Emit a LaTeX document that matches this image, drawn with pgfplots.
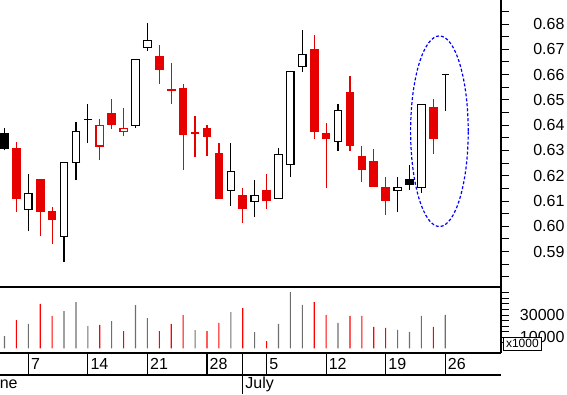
\documentclass[border=0pt]{standalone}
\usepackage{pgfplots}
\usepackage{pgfplotstable}
\pgfplotsset{compat=1.18}
\usepackage{fontspec}
\setmainfont{Liberation Sans}
\definecolor{cred}{RGB}{230,0,0}
\definecolor{vred}{RGB}{255,0,0}
\definecolor{vgray}{RGB}{110,110,110}
\definecolor{eblue}{RGB}{0,0,255}
% candles, prices in cents: x low bodylow bodyhigh high
\pgfplotstableread{
x l bl bh h
2 60.58 61.13 63.06 63.34
4 59.63 60.58 61.83 61.83
5 59.32 60.27 60.57 60.77
10 63.86 64.02 64.44 65.04
14 65.64 66.23 66.70 67.17
15 64.85 65.40 65.40 66.46
16 62.24 63.66 65.43 65.63
17 62.75 63.68 63.68 64.36
18 62.79 63.58 63.85 64.00
19 61.13 61.13 62.86 63.28
21 60.15 60.70 61.19 61.51
23 60.70 61.02 61.39 62.07
27 63.47 63.78 66.97 67.57
28 61.53 63.47 63.65 64.09
30 62.99 63.19 65.27 65.94
31 61.77 62.24 62.74 63.18
32 61.57 61.57 62.55 63.05
33 60.46 61.02 61.52 61.96
37 62.87 63.47 64.68 65.04
}\redfilled
\pgfplotstableread{
x l bl bh h
9 62.64 63.18 64.00 64.25
11 63.56 63.76 63.88 64.68
}\redhollow
\pgfplotstableread{
x l bl bh h
3 59.83 60.68 61.31 62.07
6 58.57 59.61 62.53 62.53
7 61.83 62.53 63.76 64.13
12 63.90 64.00 66.60 66.60
13 66.94 67.08 67.36 68.04
20 60.82 61.43 62.18 63.28
22 60.38 60.99 61.21 61.82
24 61.11 61.11 62.85 63.09
25 61.96 62.45 66.13 66.13
26 66.11 66.33 66.80 67.76
29 62.99 63.36 64.59 64.84
34 60.57 61.43 61.53 61.95
36 61.33 61.53 64.83 64.83
}\whitehollow
\pgfplotstableread{
x l bl bh h
1 63.00 63.10 63.65 63.90
8 63.31 64.22 64.22 64.84
35 61.45 61.66 61.82 62.43
}\blackfilled
\pgfplotstableread{
x l bl bh h
38 64.57 66.00 66.00 66.00
}\lastday
\pgfplotsset{nomark/.style={only marks, mark=none, mark size=0pt, mark options={draw=none, fill=none}}}
\newcommand{\wick}[3]{\addplot[nomark, error bars/.cd, y dir=plus, y explicit, error mark=none,
  error bar style={draw=#2, line width=#3}] table[x=x, y=l, y error plus expr=\thisrow{h}-\thisrow{l}] {#1};}
\newcommand{\body}[3]{\addplot[nomark, error bars/.cd, y dir=plus, y explicit, error mark=none,
  error bar style={draw=#2, line width=#3}] table[x=x, y=bl, y error plus expr=\thisrow{bh}-\thisrow{bl}] {#1};}
\newcommand{\edges}[3]{%
  \addplot[only marks, mark=-, mark size=4.3pt, mark options={draw=#2, line width=#3}] table[x=x, y=bl] {#1};
  \addplot[only marks, mark=-, mark size=4.3pt, mark options={draw=#2, line width=#3}] table[x=x, y=bh] {#1};}
\newcommand{\filledcandles}[2]{\wick{#1}{#2}{1.2pt}\body{#1}{#2}{8.6pt}\edges{#1}{#2}{1.6pt}}
\newcommand{\hollowcandles}[2]{\wick{#1}{#2}{1.2pt}\body{#1}{#2}{8.6pt}\body{#1}{white}{6.2pt}\edges{#1}{#2}{1.2pt}}
\tikzset{dl/.style={font=\fontsize{16}{18}\selectfont, inner sep=0pt, anchor=base west}}
\begin{document}
\begin{tikzpicture}
\useasboundingbox (0,0) rectangle (567pt,-395pt);
\pgfplotsset{
  common/.style={scale only axis, width=501pt, xmin=0.624, xmax=42.68, anchor=north west,
    tick align=outside, /pgf/number format/assume math mode=true,
    tick label style={font=\fontsize{16}{18}\selectfont},
    xtick=\empty, axis line style={line width=1.1pt}, tick style={line width=1pt, black},
    major tick length=8pt, minor tick length=8pt},
}
% ---------------- price panel (values in cents) ----------------
\begin{axis}[common, at={(0pt,0pt)}, height=287pt, ymin=57.6, ymax=68.95,
  axis x line*=bottom, axis y line*=right,
  ytick={59,60,61,62,63,64,65,66,67,68},
  yticklabels={0.59,0.60,0.61,0.62,0.63,0.64,0.65,0.66,0.67,0.68},
  minor ytick={58,58.5,59.5,60.5,61.5,62.5,63.5,64.5,65.5,66.5,67.5,68.5},
  yticklabel style={anchor=east, xshift=59pt},
]
\filledcandles{\redfilled}{cred}
\hollowcandles{\redhollow}{cred}
\hollowcandles{\whitehollow}{black}
\filledcandles{\blackfilled}{black}
\wick{\lastday}{black}{0.9pt}
\addplot[only marks, mark=-, mark size=3.3pt, mark options={draw=black, line width=0.9pt}] table[x=x, y=h] {\lastday};
\coordinate (ec) at (axis cs:37.51,63.76);
\end{axis}
\draw[eblue, line width=1.2pt, dash pattern=on 3pt off 2pt] (ec) ellipse [x radius=28.8pt, y radius=95.3pt];
% ---------------- volume panel ----------------
\begin{axis}[common, at={(0pt,-287pt)}, height=66pt, ymin=-4200, ymax=55200,
  axis x line*=box, axis y line*=right, scaled y ticks=false,
  ytick={10000,20000,30000,40000,50000}, yticklabels={10000,,30000,,},
  minor ytick={5000,15000,25000,35000,45000},
  yticklabel style={anchor=east, xshift=59pt},
]
\addplot[ybar, bar width=1.1pt, bar shift=0pt, fill=vred, draw=none] coordinates {
(2,25500) (4,40100) (5,29300) (9,21200) (11,15600) (14,15600) (15,22100) (16,30000)
(18,15600) (19,23000) (21,36300) (23,6600) (27,41700) (28,30200) (30,29300) (31,29300)
(32,19400) (33,18500) (37,19400)};
\addplot[ybar, bar width=1.1pt, bar shift=0pt, fill=vgray, draw=none] coordinates {
(1,11100) (3,22100) (6,33600) (7,41700) (8,20100) (10,24600) (12,39000) (13,27300)
(17,16500) (20,32700) (22,14700) (24,22100) (25,50700) (26,39200) (29,23000) (34,16700)
(35,14900) (36,29300) (38,30200)};
\end{axis}
\node[draw, fill=white, line width=0.8pt, inner sep=0pt, minimum width=38pt, minimum height=13.5pt, anchor=north west,
  font=\fontsize{12}{14}\selectfont] at (503pt,-336.7pt) {x1000};
% ---------------- date row ----------------
\begin{axis}[scale only axis, width=501pt, height=22pt, at={(0pt,-353pt)}, anchor=north west,
  xmin=0.624, xmax=42.68, ymin=0, ymax=1, axis x line*=box, axis y line=none,
  xtick={3,8,13,18,21,23,28,33,38}, xticklabels=\empty, major tick length=0pt,
  xmajorgrids, grid style={black, line width=1.1pt}, axis line style={line width=1.1pt}, clip=false]
\node[dl] at ([xshift=2.5pt, yshift=5.7pt]axis cs:3,0) {7};
\node[dl] at ([xshift=2.5pt, yshift=5.7pt]axis cs:8,0) {14};
\node[dl] at ([xshift=2.5pt, yshift=5.7pt]axis cs:13,0) {21};
\node[dl] at ([xshift=2.5pt, yshift=5.7pt]axis cs:18,0) {28};
\node[dl] at ([xshift=2.5pt, yshift=5.7pt]axis cs:23,0) {5};
\node[dl] at ([xshift=2.5pt, yshift=5.7pt]axis cs:28,0) {12};
\node[dl] at ([xshift=2.5pt, yshift=5.7pt]axis cs:33,0) {19};
\node[dl] at ([xshift=2.5pt, yshift=5.7pt]axis cs:38,0) {26};
\coordinate (jl) at (axis cs:21,0);
\end{axis}
\draw[black, line width=1.1pt] (jl) -- ++(0pt,-19pt);
\node[dl] at ([xshift=2.5pt, yshift=-13.5pt]jl) {July};
\begin{scope}
\clip (0,0) rectangle (567pt,-395pt);
\node[dl] at (-17.3pt,-388.5pt) {June};
\end{scope}
\end{tikzpicture}
\end{document}
